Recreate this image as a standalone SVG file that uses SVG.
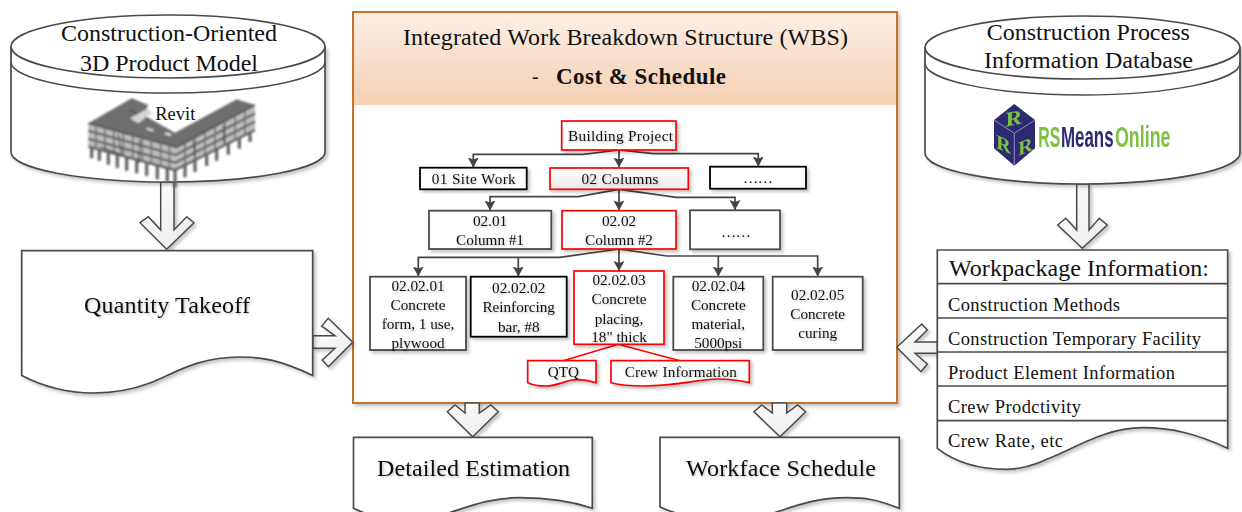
<svg xmlns="http://www.w3.org/2000/svg" width="1242" height="512" viewBox="0 0 1242 512">
<defs>
<style>
text{font-family:"Liberation Serif","Times New Roman",serif;fill:#111;text-anchor:middle}
.sh{filter:url(#shadow)}
.ts{filter:url(#tshadow)}
.s{fill:#fff;stroke:#4a4a4a;stroke-width:1.7;stroke-linejoin:miter}
.thin{fill:none;stroke:#4a4a4a;stroke-width:1.5}
.arrow{fill:url(#arrowFill);stroke:#4a4a4a;stroke-width:1.5;stroke-linejoin:miter}
.gr{fill:#fff;stroke:#4a4a4a;stroke-width:1.8}
.bk{fill:#fff;stroke:#000;stroke-width:1.8}
.rd{fill:#fff;stroke:#f00;stroke-width:1.7}
.conn{fill:none;stroke:#444;stroke-width:1.7;marker-end:url(#head)}
.redl{fill:none;stroke:#f00;stroke-width:1.5}
.t22{font-size:24px}.t17{font-size:18.5px}.t14{font-size:15.2px;filter:url(#tshadow)}
.l{text-anchor:start}
.logo{font-family:"Liberation Sans",Arial,sans-serif;font-size:29px;font-weight:bold;text-anchor:start}
.lg{fill:#7cc142}.ln{fill:#2d2a72}
.cube{fill:#7cc142;font-weight:bold}
</style>
<filter id="shadow" x="-10%" y="-10%" width="125%" height="130%"><feDropShadow dx="2.5" dy="2.5" stdDeviation="1.6" flood-color="#000" flood-opacity=".22"/></filter>
<filter id="tshadow" x="-5%" y="-20%" width="115%" height="150%"><feDropShadow dx="1.2" dy="1.2" stdDeviation=".8" flood-color="#000" flood-opacity=".25"/></filter>
<filter id="soft" x="-5%" y="-5%" width="110%" height="110%"><feGaussianBlur stdDeviation="2.4"/></filter>
<filter id="soft2" x="-5%" y="-5%" width="110%" height="110%"><feGaussianBlur stdDeviation=".45"/></filter>
<linearGradient id="hdr" x1="0" y1="0" x2="0" y2="1"><stop offset="0" stop-color="#fbefe5"/><stop offset="1" stop-color="#f4cfb2"/></linearGradient>
<linearGradient id="arrowFill" x1="0" y1="0" x2="1" y2="1"><stop offset="0" stop-color="#fff"/><stop offset="1" stop-color="#e9e9e9"/></linearGradient>
<linearGradient id="cellG" x1="0" y1="0" x2="0" y2="1"><stop offset="0" stop-color="#fff"/><stop offset="1" stop-color="#eaeaea"/></linearGradient>
<marker id="head" markerUnits="userSpaceOnUse" markerWidth="12" markerHeight="12" refX="10" refY="5.500" orient="auto"><path d="M0 0 L10 5.500 L0 11 L2 5.500Z" fill="#444"/></marker>
</defs>

<g id="main-box">
<rect class="sh" x="353" y="12" width="544" height="391" fill="#fff" stroke="#c8722c" stroke-width="2"/>
<rect x="354" y="13" width="542" height="92" fill="url(#hdr)"/>
<text class="t22" x="625.500" y="45" textLength="445">Integrated Work Breakdown Structure (WBS)</text>
<text class="l" x="532" y="83" font-size="20">-</text>
<text class="l" x="556" y="83.500" font-size="23" font-weight="bold" textLength="170">Cost &amp; Schedule</text>
</g>

<g id="connectors">
<path class="conn" d="M619 150L583 154.300H473.300V167.500"/>
<path class="conn" d="M619 150V167.500"/>
<path class="conn" d="M619 150L653.300 153.700H758.300V166.500"/>
<path class="conn" d="M619 189.300L578.300 196.700H490V210.500"/>
<path class="conn" d="M619 189.300V210.500"/>
<path class="conn" d="M619 189.300L676.700 197.300H735V210"/>
<path class="conn" d="M619 249L560 257.300H418.300V276.500"/>
<path class="conn" d="M518.300 257.300V276.500"/>
<path class="conn" d="M619 249V271"/>
<path class="conn" d="M619 249L666.700 256H817.700V276.500"/>
<path class="conn" d="M718.300 256V276.500"/>
<path class="redl" d="M563.300 360.700L618.300 344.300L680 360.700"/>
</g>

<g id="block-arrows">
<path class="arrow sh" d="M160.700 182V230L148.300 216.700L140 222.700L166.700 249.300L194 222.700L186.700 216.700L174 230V182Z"/>
<path class="arrow sh" d="M1076.700 184V230L1065.700 218.300L1057.700 225L1082.300 248.300L1107.300 225L1099.300 218.300L1089 230V184Z"/>
<path class="arrow sh" d="M312.700 335.700H335L321.700 326L328.300 318.300L352.700 342.300L328.300 366.700L322.300 360L335 348.300H312.700Z"/>
<path class="arrow sh" d="M937.500 342H915L927.300 330L921.700 324L896.700 347.300L921 371.700L927.300 364L915 353.300H937.500Z"/>
<path class="arrow sh" d="M465 403V413L455 405L447.300 411.700L472.700 436.700L498.300 411.700L490.700 405L479.300 413V403Z"/>
<path class="arrow sh" d="M772.300 403V413L761.700 405L754 411.700L780 436.700L805.700 411.700L797.700 405L786.700 413V403Z"/>
</g>

<g id="product-model">
<path class="s sh" d="M11 47V152A157 30 0 0 0 325 152V47Z"/>
<ellipse class="s" cx="168" cy="46.500" rx="157" ry="31.500"/>
<path class="thin" d="M11 62A157 31 0 0 0 325 62"/>
<g transform="translate(80 90) scale(.33333)" filter="url(#soft)">
<path d="M25 100L155 25L205 45L190 75L285 128L470 28L525 45L290 172L25 100Z" fill="#6e6e6e"/>
<path d="M25 100L290 172L525 45V120L285 240L25 170Z" fill="#bcbcbc"/>
<path d="M25 100L290 172L525 45" fill="none" stroke="#4d4d4d" stroke-width="5"/>
<path d="M25 122L287 195L525 70M25 146L286 218L525 95" fill="none" stroke="#505050" stroke-width="6"/>
<path d="M25 170L285 240L525 120" fill="none" stroke="#555" stroke-width="7"/>
<path d="M48 105V178M75 112V185M102 120V192M130 128V200M158 135V208M186 143V216M214 150V224M242 158V232M268 165V238M315 158V226M345 142V212M375 126V196M405 110V180M435 94V165M465 78V150M495 62V135" fill="none" stroke="#717171" stroke-width="5"/>
<path d="M35 170V205M58 176V212M85 183V224M112 190V234M140 198V242M170 206V250M200 214V258M232 224V268M262 232V276M285 240V292M315 226V262M345 211V246M380 193V228M410 178V212M445 160V194M478 144V176M510 128V156" fill="none" stroke="#666" stroke-width="10"/>
<path d="M60 170l60 22M115 132L125 195M180 150L176 220M340 150L345 205M430 105L432 160M150 60L205 90" fill="none" stroke="#333" stroke-width="3"/>
<path d="M150 85L205 55L215 70L175 100Z" fill="#d5d5d5"/>
<path d="M200 116l20 6M255 130l18 5" stroke="#e8e8e8" stroke-width="6" fill="none"/>
</g>
<text x="175.300" y="120" font-size="18.500">Revit</text>
<text class="t22" x="169" y="41" textLength="216">Construction-Oriented</text>
<text class="t22" x="169" y="70.700" textLength="178">3D Product Model</text>
</g>

<g id="process-database">
<path class="s sh" d="M925 47.500V153A157.500 31 0 0 0 1240 153V47.500Z"/>
<ellipse class="s" cx="1082.500" cy="47.500" rx="157.500" ry="31.500"/>
<path class="thin" d="M925 63A157.500 32 0 0 0 1240 63"/>
<g filter="url(#soft2)">
<path d="M1014.300 104L1035 120V148.300L1014.300 165.700L994 148.300V120Z" fill="#2d2a72"/>
<path d="M994 120L1014.300 133.300L1035 120M1014.300 133.300V165.700" fill="none" stroke="#8c8cc0" stroke-width="1"/>
<text class="cube" transform="translate(1014.500 125) rotate(-12) scale(1.1 .85)" font-size="24" font-style="italic">R</text>
<text class="cube" transform="translate(1003.500 151) skewY(22)" font-size="20">R</text>
<text class="cube" transform="translate(1025.500 153) skewY(-22)" font-size="20">R</text>
<text class="logo lg" transform="translate(1038.300 146.700) scale(.546 1)">RS</text>
<text class="logo ln" transform="translate(1061 146.700) scale(.582 1)">Means</text>
<text class="logo lg" transform="translate(1115 146.700) scale(.615 1)">Online</text>
</g>
<text class="t22" x="1088.300" y="40" textLength="203">Construction Process</text>
<text class="t22" x="1088.500" y="68" textLength="209">Information Database</text>
</g>

<g id="quantity-takeoff">
<path class="s sh" d="M21.700 250.700H312.700V375.500C280 360 262 357 240 357C195 357 172 375 150 383C130 390.500 112 393 93 393C68 393 44 387 21.700 375.500Z"/>
<text class="t22 ts" x="167" y="312.700" textLength="166">Quantity Takeoff</text>
</g>

<g id="detailed-estimation">
<path class="s sh" d="M353.500 437.300H592.300V508.300C565 499 540 497.700 520 497.700C490 497.700 470 506 450 512.500C430 519 410 520 400 520C380 520 365 514 353.500 508.300Z"/>
<text class="t22 ts" x="473.500" y="476" textLength="193">Detailed Estimation</text>
</g>

<g id="workface-schedule">
<path class="s sh" d="M660 437.300H899.300V508.300C875 499 865 497.700 846.700 497.700C815 497.700 795 506 775 512.500C755 519 735 520 720 520C700 520 675 514 660 507Z"/>
<text class="t22 ts" x="781" y="476" textLength="190">Workface Schedule</text>
</g>

<g id="workpackage-info">
<path class="s sh" d="M937.300 250H1227.700V448.300C1195 433 1170 427.700 1143 427.700C1105 427.700 1075 448 1050 458C1035 465 1020 469.300 1006.700 469.300C980 469.300 955 462 937.300 448.300Z"/>
<path class="thin" d="M937.300 283.700H1227.700M937.300 318H1227.700M937.300 352H1227.700M937.300 386H1227.700M937.300 420.700H1227.700" style="stroke-width:1.700"/>
<text class="t22 l" x="949" y="276" textLength="260">Workpackage Information:</text>
<text class="t17 l" x="948" y="310.700" textLength="172">Construction Methods</text>
<text class="t17 l" x="948" y="345" textLength="253">Construction Temporary Facility</text>
<text class="t17 l" x="948" y="379" textLength="227">Product Element Information</text>
<text class="t17 l" x="948" y="413" textLength="133">Crew Prodctivity</text>
<text class="t17 l" x="948" y="447" textLength="115">Crew Rate, etc</text>
</g>

<g id="n-building-project"><rect class="rd sh" x="561.700" y="121" width="114.300" height="29"/><text class="t14" x="620.500" y="140.700" textLength="105">Building Project</text></g>
<g id="n-01"><rect class="bk sh" x="420" y="167.700" width="106.700" height="21.600"/><text class="t14" x="473.700" y="184" textLength="84">01 Site Work</text></g>
<g id="n-02"><rect class="rd sh" x="550" y="168" width="138.300" height="21.300" style="fill:url(#cellG)"/><text class="t14" x="620" y="184" textLength="77">02 Columns</text></g>
<g id="n-03"><rect class="bk sh" x="710" y="166.700" width="96" height="22"/><text class="t14" x="758" y="183" textLength="30">……</text></g>
<g id="n-0201"><rect class="gr sh" x="429" y="210.700" width="122.300" height="38.300"/><text class="t14" x="490" y="226">02.01</text><text class="t14" x="490" y="245">Column #1</text></g>
<g id="n-0202"><rect class="rd sh" x="562" y="210.700" width="114" height="38.300"/><text class="t14" x="619" y="226">02.02</text><text class="t14" x="619" y="245">Column #2</text></g>
<g id="n-0203"><rect class="gr sh" x="690" y="210.300" width="90" height="39"/><text class="t14" x="736" y="236.700" textLength="30">……</text></g>
<g id="n-020201"><rect class="gr sh" x="370" y="276.700" width="96" height="73.300"/><text class="t14" x="418" y="290.700">02.02.01</text><text class="t14" x="418" y="310">Concrete</text><text class="t14" x="418" y="329.300">form, 1 use,</text><text class="t14" x="418" y="348.300">plywood</text></g>
<g id="n-020202"><rect class="bk sh" x="470.700" y="276.700" width="96" height="60"/><text class="t14" x="518.700" y="293.300">02.02.02</text><text class="t14" x="518.700" y="312.300">Reinforcing</text><text class="t14" x="518.700" y="331.700">bar, #8</text></g>
<g id="n-020203"><rect class="rd sh" x="574" y="271" width="90" height="73.300"/><text class="t14" x="619" y="285">02.02.03</text><text class="t14" x="619" y="304.300">Concrete</text><text class="t14" x="619" y="324">placing,</text><text class="t14" x="619" y="342.300">18" thick</text></g>
<g id="n-020204"><rect class="gr sh" x="673.300" y="276.700" width="90" height="73.300"/><text class="t14" x="718.300" y="290.700">02.02.04</text><text class="t14" x="718.300" y="310">Concrete</text><text class="t14" x="718.300" y="329.300">material,</text><text class="t14" x="718.300" y="348.300">5000psi</text></g>
<g id="n-020205"><rect class="gr sh" x="772.700" y="276.700" width="90" height="73.300"/><text class="t14" x="817.700" y="300">02.02.05</text><text class="t14" x="817.700" y="319.300">Concrete</text><text class="t14" x="817.700" y="338.300">curing</text></g>
<g id="n-qtq"><path class="rd sh" d="M527.700 360.700H596V382.700C585 379.500 578 379 572 380C562 382 556 386 546 386C539 386 533 385 527.700 382.700Z"/><text class="t14" x="563.300" y="376.700">QTQ</text></g>
<g id="n-crew"><path class="rd sh" d="M611 360.700H749.300V382.700C738 380 728 379 718 379C698 379 680 386 643 386C630 386 620 385 611 382.700Z"/><text class="t14" x="680.800" y="376.700" textLength="112">Crew Information</text></g>
</svg>
